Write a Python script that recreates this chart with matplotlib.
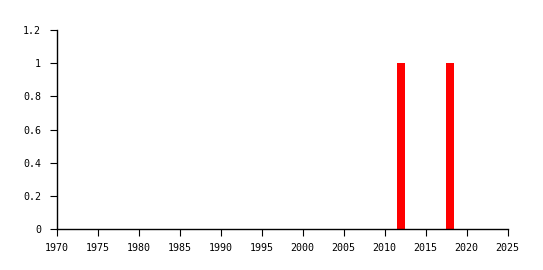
import numpy as np
import matplotlib
matplotlib.use('Agg')
import matplotlib.pyplot as plt

plt.rcParams['font.family'] = 'DejaVu Sans Mono'
plt.rcParams['font.size'] = 7.2

years = [2012, 2018]
counts = [1, 1]
xticks = np.arange(1970, 2025 + 1, 5)
yticks = [0, 0.2, 0.4, 0.6, 0.8, 1, 1.2]
ytick_labels = ['0', '0.2', '0.4', '0.6', '0.8', '1', '1.2']

fig = plt.figure(figsize=(5.43, 2.70), dpi=100)
ax = fig.add_axes([56.5/543, 41/270, 451/543, 199/270])

ax.bar(years, counts, width=0.95, color='#ff0000', edgecolor='none')

ax.set_xlim(1970, 2025)
ax.set_ylim(0, 1.2)
ax.set_xticks(xticks)
ax.set_yticks(yticks)
ax.set_yticklabels(ytick_labels)
for s in ['top', 'right']:
    ax.spines[s].set_visible(False)
for s in ['left', 'bottom']:
    ax.spines[s].set_linewidth(1)
    ax.spines[s].set_color('black')
ax.tick_params(axis='both', direction='out', length=5, width=0.8,
               colors='black')
ax.tick_params(axis='y', pad=6)
ax.tick_params(axis='x', pad=5)

fig.savefig('out.png', dpi=100)
